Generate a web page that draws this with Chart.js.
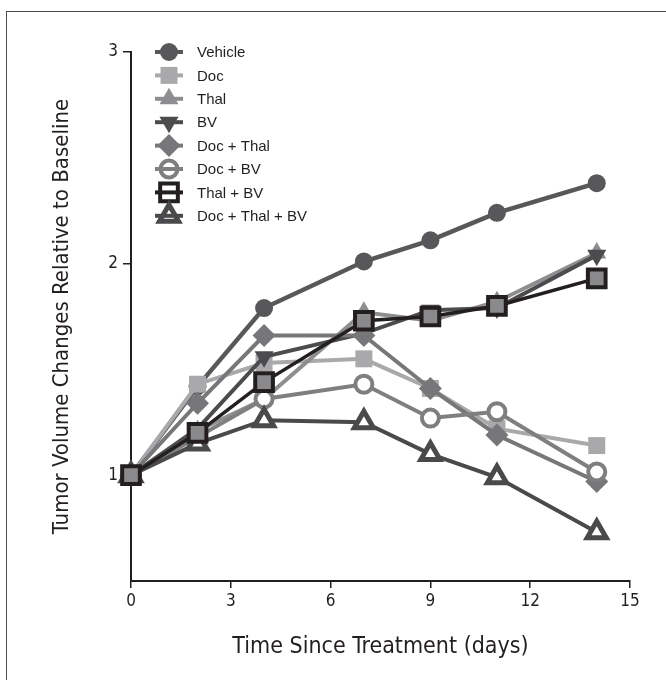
<!DOCTYPE html>
<html><head><meta charset="utf-8">
<script src="https://cdn.jsdelivr.net/npm/chart.js@4/dist/chart.umd.min.js"></script>
<style>
html,body{margin:0;padding:0;background:#fff;}
#wrap{position:relative;width:666px;height:680px;overflow:hidden;}
#frame{position:absolute;left:6px;top:11px;width:720px;height:720px;border-left:1.5px solid #4d4d4f;border-top:1.5px solid #4d4d4f;}
canvas{position:absolute;left:0;top:0;}
</style></head><body>
<div id="wrap"><div id="frame"></div><canvas id="c" width="666" height="680"></canvas></div>
<script>
// ---- data ----
const days = [0, 2, 4, 7, 9, 11, 14];
const seriesNames = ['Vehicle', 'Doc', 'Thal', 'BV', 'Doc + Thal', 'Doc + BV', 'Thal + BV', 'Doc + Thal + BV'];
const vehicle    = [1, 1.42, 1.79, 2.01, 2.11, 2.24, 2.38];
const doc        = [1, 1.43, 1.53, 1.55, 1.41, 1.22, 1.14];
const thal       = [1, 1.21, 1.36, 1.77, 1.73, 1.82, 2.05];
const bv         = [1, 1.22, 1.56, 1.67, 1.78, 1.79, 2.04];
const docThal    = [1, 1.34, 1.66, 1.66, 1.41, 1.19, 0.97];
const docBv      = [1, 1.18, 1.36, 1.43, 1.27, 1.30, 1.015];
const thalBv     = [1, 1.20, 1.44, 1.73, 1.75, 1.80, 1.93];
const docThalBv  = [1, 1.15, 1.26, 1.25, 1.10, 0.99, 0.73];
const xTicks = [0, 3, 6, 9, 12, 15];
const yTicks = [1, 2, 3];

const seriesValues = [vehicle, doc, thal, bv, docThal, docBv, thalBv, docThalBv];
const styles = [
  {c:'#58585a', fill:'#58585a', ps:'circle',   r:9,    rot:0,   bw:0, lw:4.5},
  {c:'#a9a9ab', fill:'#a9a9ab', ps:'rect',     r:12,   rot:0,   bw:0, lw:4},
  {c:'#8e8e90', fill:'#8e8e90', ps:'triangle', r:11,   rot:0,   bw:0, lw:4},
  {c:'#4c4c4e', fill:'#4c4c4e', ps:'triangle', r:11,   rot:180, bw:0, lw:4},
  {c:'#77777a', fill:'#77777a', ps:'rectRot',  r:11.5, rot:0,   bw:0, lw:4},
  {c:'#7f7f81', fill:'#ffffff', ps:'circle',   r:8.5,  rot:0,   bw:4, lw:4},
  {c:'#231f20', fill:'#8a8a8c', ps:'rect',     r:12.5, rot:0,   bw:4, lw:3.5},
  {c:'#4a4a4c', fill:'#ffffff', ps:'triangle', r:11,   rot:0,   bw:5, lw:4}
];
const drawOrder = [7, 6, 5, 4, 3, 2, 0, 1];

const datasets = seriesNames.map((name, i) => ({
  label: name,
  data: days.map((d, j) => ({x: d, y: seriesValues[i][j]})),
  borderColor: styles[i].c,
  backgroundColor: styles[i].c,
  borderWidth: styles[i].lw,
  pointStyle: styles[i].ps,
  pointRadius: styles[i].r,
  pointHoverRadius: styles[i].r,
  pointRotation: styles[i].rot,
  pointBackgroundColor: styles[i].fill,
  pointBorderColor: styles[i].c,
  pointBorderWidth: styles[i].bw,
  tension: 0,
  clip: false,
  order: drawOrder[i]
}));

const ink = '#231f20';
const narrow = '"Liberation Sans Narrow", "DejaVu Sans Condensed", "Liberation Sans", sans-serif';

const legendPlugin = {
  id: 'customLegend',
  afterDraw(chart) {
    const ctx = chart.ctx;
    chart.data.datasets.forEach((ds, i) => {
      const y = 52 + i * 23.4;
      const cx = 169;
      ctx.save();
      ctx.fillStyle = i === 6 ? '#ffffff' : ds.pointBackgroundColor;
      ctx.strokeStyle = ds.pointBorderColor;
      ctx.lineWidth = ds.pointBorderWidth;
      Chart.helpers.drawPoint(ctx, {
        pointStyle: ds.pointStyle, radius: ds.pointRadius,
        rotation: ds.pointRotation, borderWidth: ds.pointBorderWidth
      }, cx, y);
      ctx.strokeStyle = ds.borderColor;
      ctx.lineWidth = 4;
      ctx.beginPath(); ctx.moveTo(155, y); ctx.lineTo(183, y); ctx.stroke();
      ctx.fillStyle = ink;
      ctx.font = '15px "Liberation Sans", Arial, sans-serif';
      ctx.textBaseline = 'middle';
      ctx.textAlign = 'left';
      ctx.fillText(ds.label, 197, y + 1);
      ctx.restore();
    });
  }
};

new Chart(document.getElementById('c'), {
  type: 'line',
  data: { datasets },
  plugins: [legendPlugin],
  options: {
    responsive: false,
    devicePixelRatio: 1,
    animation: false,
    layout: { padding: { top: 52, right: 36, bottom: 0, left: 0 } },
    plugins: { legend: { display: false }, tooltip: { enabled: false } },
    scales: {
      x: {
        type: 'linear', min: 0, max: 15,
        afterBuildTicks: s => { s.ticks = xTicks.map(v => ({value: v})); },
        afterFit: s => { s.height = 99; },
        grid: { display: true, drawOnChartArea: false, drawTicks: true, tickLength: 7, color: ink, lineWidth: 1.5 },
        border: { display: true, color: ink, width: 2 },
        ticks: { font: { family: narrow, size: 17 }, color: ink, padding: 3, maxRotation: 0, autoSkip: false },
        title: { display: true, text: 'Time Since Treatment (days)', color: ink,
                 font: { family: narrow, size: 23, lineHeight: 1 }, padding: { top: 0, bottom: 21 } }
      },
      y: {
        type: 'linear', min: 0.5, max: 3,
        afterBuildTicks: s => { s.ticks = yTicks.map(v => ({value: v})); },
        afterFit: s => { s.width = 131; },
        grid: { display: true, drawOnChartArea: false, drawTicks: true, tickLength: 8, color: ink, lineWidth: 1.5 },
        border: { display: true, color: ink, width: 2 },
        ticks: { font: { family: narrow, size: 17 }, color: ink, padding: 5 },
        title: { display: true, text: 'Tumor Volume Changes Relative to Baseline', color: ink,
                 font: { family: narrow, size: 22, lineHeight: 1 }, padding: { top: 51, bottom: 0 } }
      }
    }
  }
});
</script>
</body></html>
